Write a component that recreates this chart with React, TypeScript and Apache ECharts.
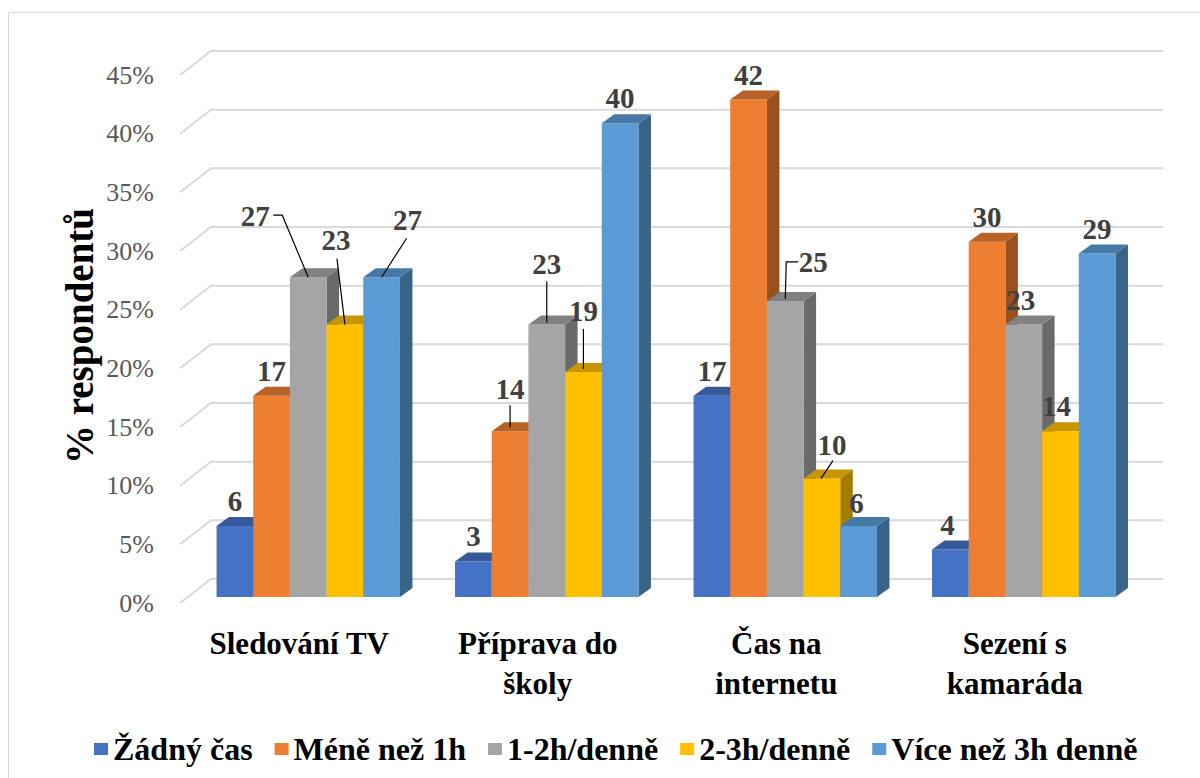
import React, { useEffect, useRef } from "react";
import * as echarts from "echarts";

// ---- data ----
const categories = ["Sledování TV", "Příprava do\nškoly", "Čas na\ninternetu", "Sezení s\nkamaráda"];
const seriesNames = ["Žádný čas", "Méně než 1h", "1-2h/denně", "2-3h/denně", "Více než 3h denně"];
const zadnyCas = [6, 3, 17, 4];
const menezNez1h = [17, 14, 42, 30];
const h1az2 = [27, 23, 25, 23];
const h2az3 = [23, 19, 10, 14];
const viceNez3h = [27, 40, 6, 29];
const yTicks = [0, 5, 10, 15, 20, 25, 30, 35, 40, 45];

const seriesValues = [zadnyCas, menezNez1h, h1az2, h2az3, viceNez3h];
const seriesColors = ["#4472C4", "#ED7D31", "#A5A5A5", "#FFC000", "#5B9BD5"];

// label placement (relative to the bar's front-top centre) and optional leader lines
type LabelLayout = { dx: number; dy: number; leader?: number[][] };
const DEF: LabelLayout = { dx: 0, dy: -25 };
const labelLayouts: LabelLayout[][] = [
  [DEF, DEF, DEF, { dx: -3, dy: -25 }],
  [DEF, { dx: 0, dy: -42, leader: [[0, -26], [0, -4]] }, DEF, DEF],
  [
    { dx: -53, dy: -61, leader: [[-35, -62], [-26, -62], [0, 0]] },
    { dx: 0, dy: -61, leader: [[0, -43], [0, -2]] },
    { dx: 28, dy: -39, leader: [[13, -39], [1, -39], [0, -2]] },
    { dx: -3, dy: -25 },
  ],
  [
    { dx: -9, dy: -85, leader: [[-8, -66], [0, 0]] },
    { dx: 0, dy: -61, leader: [[0, -43], [0, -3]] },
    { dx: 10, dy: -34, leader: [[11, -18], [-1, 0]] },
    { dx: -4, dy: -25 },
  ],
  [{ dx: 26, dy: -57, leader: [[25, -39], [0, 0]] }, DEF, { dx: -2, dy: -23 }, DEF],
];

const FONT = "Liberation Serif";
const DEPTH_X = 12.5;
const DEPTH_Y = 9;
const WALL_X = 31;
const WALL_Y = 24;

function shade(hex: string, f: number) {
  const n = parseInt(hex.slice(1), 16);
  const r = Math.round(((n >> 16) & 255) * f);
  const g = Math.round(((n >> 8) & 255) * f);
  const b = Math.round((n & 255) * f);
  return `rgb(${r},${g},${b})`;
}

export default function App() {
  const ref = useRef<HTMLDivElement>(null);
  useEffect(() => {
    document.body.style.margin = "0";
    if (!ref.current) return;
    const chart = echarts.init(ref.current, null, { renderer: "svg" });

    const gridSeries = {
      type: "custom",
      name: "grid",
      silent: true,
      z: 1,
      xAxisIndex: 0,
      yAxisIndex: 0,
      data: yTicks.map((v) => [0, v]),
      renderItem: (params: any, api: any) => {
        const cs = params.coordSys;
        const y = api.coord([0, api.value(1)])[1];
        return {
          type: "polyline",
          shape: {
            points: [
              [cs.x, y],
              [cs.x + WALL_X, y - WALL_Y],
              [cs.x + cs.width + WALL_X - 2, y - WALL_Y],
            ],
          },
          style: { stroke: "#d9d9d9", lineWidth: 2, fill: "none" },
        };
      },
    };

    const barSeries = seriesValues.map((vals, si) => ({
      type: "custom",
      name: seriesNames[si],
      z: 2 + si,
      xAxisIndex: 1,
      yAxisIndex: 1,
      itemStyle: { color: seriesColors[si] },
      data: vals.map((v, ci) => [ci, v]),
      renderItem: (params: any, api: any) => {
        const ci = api.value(0);
        const v = api.value(1);
        const base = api.coord([ci, 0]);
        const top = api.coord([ci, v]);
        const band = api.size([1, 0])[0];
        const bw = band * 0.1538;
        const x0 = base[0] - 2.5 * bw + si * bw;
        const x1 = x0 + bw;
        const yb = base[1];
        const yt = top[1];
        const col = seriesColors[si];
        const cx = (x0 + x1) / 2;
        const lay = labelLayouts[si][ci] || DEF;
        const children: any[] = [
          {
            type: "polygon",
            shape: { points: [[x1, yt], [x1 + DEPTH_X, yt - DEPTH_Y], [x1 + DEPTH_X, yb - DEPTH_Y], [x1, yb]] },
            style: { fill: shade(col, 0.64) },
          },
          {
            type: "rect",
            shape: { x: x0, y: yt, width: bw, height: yb - yt },
            style: { fill: col },
          },
          {
            type: "polygon",
            shape: { points: [[x0, yt], [x1, yt], [x1 + DEPTH_X, yt - DEPTH_Y], [x0 + DEPTH_X, yt - DEPTH_Y]] },
            style: { fill: shade(col, 0.78) },
          },
        ];
        if (lay.leader) {
          children.push({
            type: "polyline",
            shape: { points: lay.leader.map((p) => [cx + p[0], yt + p[1]]) },
            style: { stroke: "#000", lineWidth: 1.2, fill: "none" },
          });
        }
        children.push({
          type: "text",
          x: cx + lay.dx,
          y: yt + lay.dy,
          style: {
            text: String(v),
            fill: "#404040",
            fontSize: 29,
            fontWeight: "bold",
            fontFamily: FONT,
            align: "center",
            verticalAlign: "middle",
          },
        });
        return { type: "group", children };
      },
    }));

    chart.setOption({
      animation: false,
      backgroundColor: "#ffffff",
      textStyle: { fontFamily: FONT },
      grid: [
        // front plane: axis labels and wall gridlines
        { left: 180, right: 66, top: 75, bottom: 175 },
        // plane of the bars (slightly deeper)
        { left: 189, right: 57, top: 64, bottom: 181 },
      ],
      xAxis: [
        {
          type: "category",
          gridIndex: 0,
          data: categories,
          axisLine: { show: false },
          axisTick: { show: false },
          splitLine: { show: false },
          axisLabel: {
            interval: 0,
            fontFamily: FONT,
            fontWeight: "bold",
            fontSize: 31,
            color: "#000",
            lineHeight: 40,
            margin: 20,
          },
        },
        {
          type: "category",
          gridIndex: 1,
          data: categories,
          show: false,
        },
      ],
      yAxis: [
        {
          type: "value",
          gridIndex: 0,
          min: 0,
          max: 45,
          interval: 5,
          axisLine: { show: false },
          axisTick: { show: false },
          splitLine: { show: false },
          axisLabel: {
            formatter: "{value}%",
            fontFamily: FONT,
            fontSize: 26,
            color: "#595959",
            margin: 26,
          },
        },
        {
          type: "value",
          gridIndex: 1,
          min: 0,
          max: 45,
          interval: 5,
          show: false,
        },
      ],
      legend: {
        data: seriesNames,
        left: 89,
        top: 726,
        icon: "rect",
        itemWidth: 14,
        itemHeight: 12,
        itemGap: 22,
        textStyle: {
          fontFamily: FONT,
          fontWeight: "bold",
          fontSize: 32,
          color: "#000",
          lineHeight: 36,
        },
      },
      graphic: [
        {
          type: "rect",
          shape: { x: 8.5, y: 12.5, width: 1200, height: 800 },
          style: { fill: "none", stroke: "#d9d9d9", lineWidth: 1 },
          silent: true,
          z: 0,
        },
        {
          type: "text",
          x: 79,
          y: 336,
          rotation: Math.PI / 2,
          style: {
            text: "% respondentů",
            fill: "#000",
            fontSize: 39,
            fontWeight: "bold",
            fontFamily: FONT,
            align: "center",
            verticalAlign: "middle",
          },
        },
      ],
      series: [gridSeries, ...barSeries],
    });
    return () => chart.dispose();
  }, []);
  return <div ref={ref} style={{ width: 1200, height: 778 }} />;
}
